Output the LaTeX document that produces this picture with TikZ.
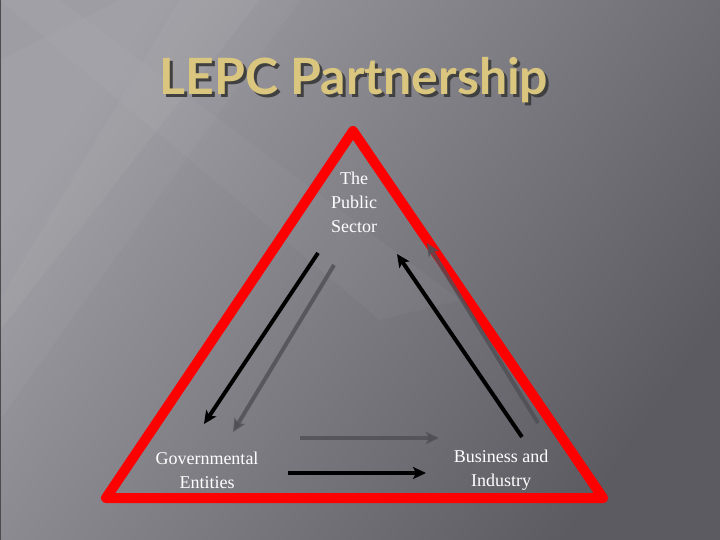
\documentclass[tikz,border=0pt]{standalone}
\usepackage{fontspec}
\setmainfont{Liberation Serif}
\newfontfamily\titlefont{Lato}
\usetikzlibrary{positioning,arrows.meta}

\definecolor{slidedark}{RGB}{92,91,98}
\definecolor{slidelight}{RGB}{158,157,164}
\definecolor{titletan}{RGB}{218,198,126}
\definecolor{trired}{RGB}{255,0,0}
\definecolor{flowgray}{RGB}{78,78,84}

\begin{document}
\begin{tikzpicture}[
x=1pt,y=-1pt,
corner/.style={
  text=white,
  align=center,
  inner sep=0pt,
  font=\fontsize{18}{24}\selectfont
  },
flow/.style={
  ->,
  line width=4pt,
  draw=black
  },
backflow/.style={
  ->,
  line width=4pt,
  draw=flowgray,
  opacity=0.8
  },
>={Stealth[length=13pt,width=12pt,inset=3pt]}
]
\useasboundingbox (0,0) rectangle (720,540);
% slide background
\shade[top color=slidelight, bottom color=slidedark, shading angle=55]
  (0,0) rectangle (720,540);
\fill[white, opacity=0.04] (0,60) -- (120,0) -- (260,0) -- (0,330) -- cycle;
\fill[white, opacity=0.03] (0,0) -- (60,0) -- (460,300) -- (380,320) -- cycle;
\fill[white, opacity=0.03] (180,0) -- (300,0) -- (0,420) -- (0,300) -- cycle;
\draw[black!70, line width=1pt] (0,0) rectangle (720,540);

% title, with its shadow in the same node
\node[text=titletan, font=\titlefont\bfseries\fontsize{50}{56}\selectfont]
  at (354,82) (title)
  {\rlap{\hspace{3pt}\raisebox{-3pt}{\color{black!75}LEPC Partnership}}LEPC Partnership};

% triangle corners
\coordinate (apex) at (353,131);
\coordinate (left) at (106,498);
\coordinate (right) at (603,498);
\draw[trired, line width=10pt, line join=round] (apex) -- (left) -- (right) -- cycle;

\node[corner] at (354,202) (public) {The\\Public\\Sector};
\node[corner] at (207,470) (gov) {Governmental\\Entities};
\node[corner] at (501,470) (biz) {Business and\\Industry};

% arrow ends
\coordinate (a1) at (318,253);
\coordinate (a2) at (204,424);
\coordinate (b1) at (334,265);
\coordinate (b2) at (233,432);
\coordinate (c1) at (522,437);
\coordinate (c2) at (397,254);
\coordinate (d1) at (538,423);
\coordinate (d2) at (427,243);
\coordinate (e1) at (300,438);
\coordinate (e2) at (439,438);
\coordinate (f1) at (288,473);
\coordinate (f2) at (426,473);

\draw[flow] (a1) -- (a2);
\draw[backflow] (b1) -- (b2);
\draw[flow] (c1) -- (c2);
\draw[backflow] (d1) -- (d2);
\draw[backflow] (e1) -- (e2);
\draw[flow] (f1) -- (f2);
\end{tikzpicture}
\end{document}
